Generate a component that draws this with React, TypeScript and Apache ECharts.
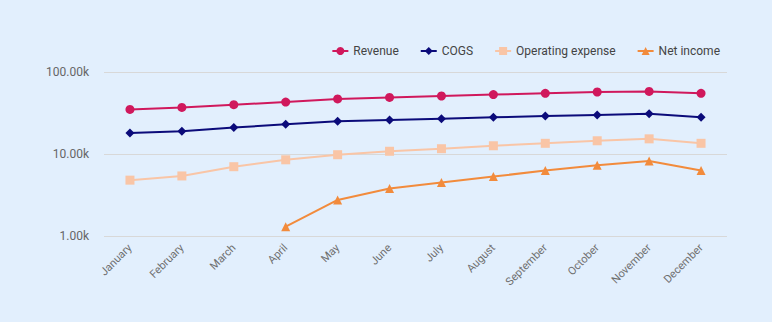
import React, { useEffect, useRef } from "react";
import * as echarts from "echarts";

const months = ["January","February","March","April","May","June","July","August","September","October","November","December"];
const revenue = [35000,37000,40000,43000,47000,49000,51000,53000,55000,57000,58000,55000];
const cogs = [18000,19000,21000,23000,25000,26000,27000,28000,29000,30000,31000,28000];
const opex = [4800,5400,7000,8500,9800,10800,11600,12600,13500,14500,15300,13500];
const netIncome = [null,null,null,1300,2750,3800,4500,5300,6300,7300,8200,6300];

export default function App() {
  const ref = useRef<HTMLDivElement>(null);
  useEffect(() => {
    document.body.style.margin = "0";
    const chart = echarts.init(ref.current!, null, { renderer: "svg" });
    const mk = (name: string, data: any[], color: string, symbol: string, size: number) => ({
      name, type: "line", data, symbol, symbolSize: size,
      lineStyle: { width: 2, color }, itemStyle: { color },
      connectNulls: false,
    });
    chart.setOption({
      animation: false,
      backgroundColor: "#e2effd",
      textStyle: { fontFamily: "Roboto" },
      legend: {
        top: 40, right: 47, itemGap: 21, itemWidth: 16, itemHeight: 10,
        textStyle: { color: "#444", fontSize: 12, fontFamily: "Roboto" },
      },
      grid: { left: 104, right: 45, top: 72, bottom: 86 },
      xAxis: {
        type: "category", data: months, boundaryGap: true,
        axisLine: { show: false }, axisTick: { show: false },
        axisLabel: { rotate: 45, color: "#6e6e6e", fontSize: 11, interval: 0, margin: 10 },
      },
      yAxis: {
        type: "log", logBase: 10, min: 1000, max: 100000,
        axisLine: { show: false }, axisTick: { show: false },
        splitLine: { lineStyle: { color: "#d8d8d8" } },
        axisLabel: { color: "#666", fontSize: 12, margin: 15, formatter: (v: number) => (v / 1000).toFixed(2) + "k" },
      },
      series: [
        mk("Revenue", revenue, "#d0185c", "circle", 9),
        mk("COGS", cogs, "#0b0b7a", "diamond", 9),
        mk("Operating expense", opex, "#f9c5a6", "rect", 9),
        mk("Net income", netIncome, "#f28b3c", "triangle", 9),
      ],
    });
    return () => chart.dispose();
  }, []);
  return <div ref={ref} style={{ width: 772, height: 322 }} />;
}
